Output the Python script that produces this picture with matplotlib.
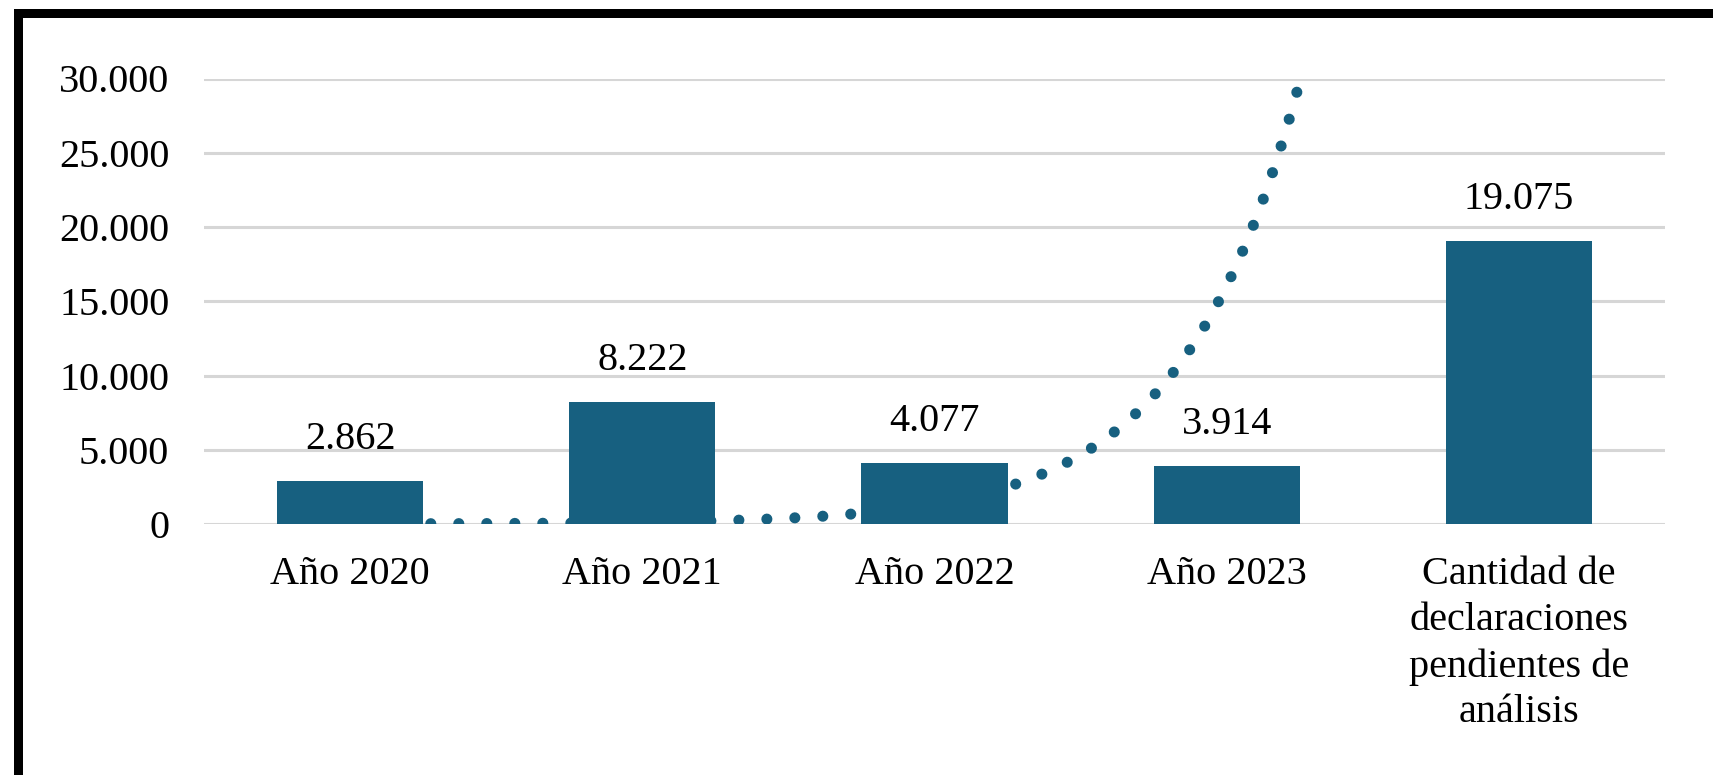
import numpy as np
import matplotlib
matplotlib.use("Agg")
import matplotlib.pyplot as plt
from matplotlib.patches import Rectangle
from matplotlib.ticker import FuncFormatter

# ---- data ----
categories = ["Año 2020", "Año 2021", "Año 2022", "Año 2023",
              "Cantidad de\ndeclaraciones\npendientes de\nanálisis"]
values = [2862, 8222, 4077, 3914, 19075]
value_labels = ["2.862", "8.222", "4.077", "3.914", "19.075"]
y_ticks = [0, 5000, 10000, 15000, 20000, 25000, 30000]

# exponential trendline (Excel style) y = a * exp(b * x), x = category index
trend_a = 9.57
trend_b = 2.475
trend_x_start = 0.0
trend_x_end = 3.24

BAR_COLOR = "#176080"
GRID_COLOR = "#d6d6d6"

W, H, DPI = 1713, 775, 100
plt.rcParams["font.family"] = ["Liberation Serif", "DejaVu Serif"]

fig = plt.figure(figsize=(W / DPI, H / DPI), dpi=DPI)
fig.patch.set_facecolor("white")
ax = fig.add_axes([204 / W, 1 - 524 / H, (1665 - 204) / W, (524 - 78.5) / H])

x = np.arange(len(categories))
ax.bar(x, values, width=0.5, color=BAR_COLOR, zorder=3)

# trendline (behind bars); drawn from the end so a dot sits at the top end
tx = np.linspace(trend_x_end, trend_x_start, 400)
ty = trend_a * np.exp(trend_b * tx)
ax.plot(tx, ty, color=BAR_COLOR, lw=8, linestyle=(0, (0.001, 2.52)),
        dash_capstyle="round", zorder=2)

# value labels
for xi, v, lab in zip(x, values, value_labels):
    ax.annotate(lab, (xi, v), xytext=(0, 30), textcoords="offset points",
                ha="center", va="center", fontsize=29, color="black", zorder=5)

ax.set_xlim(-0.5, len(categories) - 0.5)
ax.set_ylim(0, 30000)
ax.set_yticks(y_ticks)
ax.yaxis.set_major_formatter(FuncFormatter(lambda v, p: f"{int(v):,}".replace(",", ".")))
ax.set_xticks(x)
ax.set_xticklabels(categories, fontsize=29, linespacing=1.32)
ax.tick_params(axis="y", length=0, pad=25, labelsize=29)
ax.tick_params(axis="x", length=0, pad=23)
for s in ax.spines.values():
    s.set_visible(False)
ax.grid(axis="y", color=GRID_COLOR, lw=2.2, zorder=1)
ax.set_axisbelow(True)

# black frame (top and left)
fig.add_artist(Rectangle((14 / W, 1 - 18 / H), 1 - 14 / W, 9 / H,
                         transform=fig.transFigure, color="black", lw=0))
fig.add_artist(Rectangle((14 / W, 0), 9 / W, 1 - 9 / H,
                         transform=fig.transFigure, color="black", lw=0))

fig.savefig("out.png", dpi=DPI, facecolor="white")
